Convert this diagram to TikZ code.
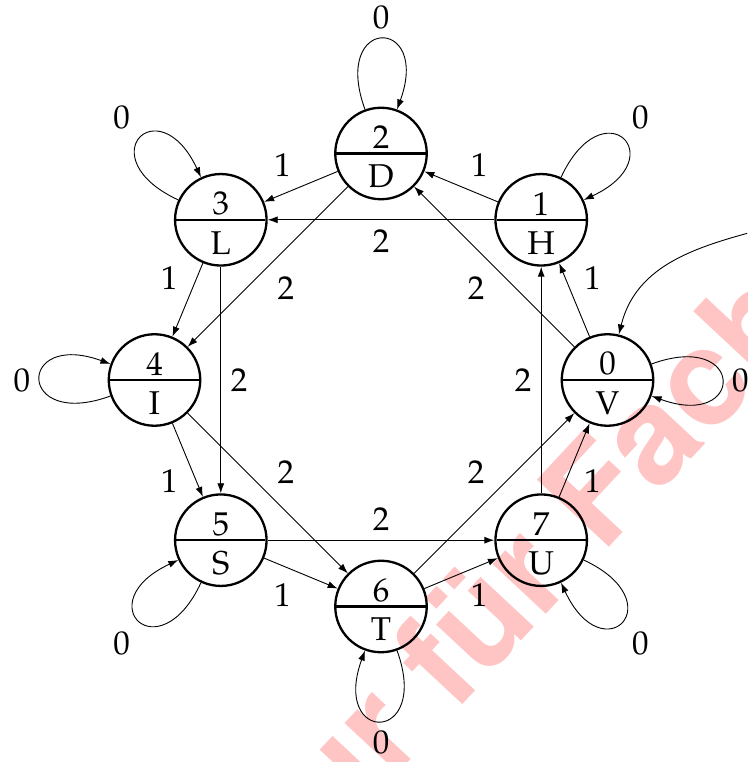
\documentclass[tikz,border=0pt]{standalone}
\usepackage{fontspec}
\newfontfamily\wmfont{TeX Gyre Heros}
\usepackage[T1]{fontenc}
\usepackage{mathpazo}
\usetikzlibrary{shapes.multipart,arrows.meta}
\begin{document}
\begin{tikzpicture}[x=1pt,y=1pt,
  font=\fontsize{33}{40}\selectfont,
  state/.style={circle split, draw, line width=2.3pt, minimum size=91.5pt},
  edge/.style={draw, line width=0.9pt, -{Latex[length=10pt,width=7pt]}},
  lbl/.style={auto=left, inner sep=9.5pt},
  lblr/.style={auto=right, inner sep=9.5pt},
  selfloop/.style={looseness=1, min distance=100pt},
  watermark/.style={rotate=47, anchor=base west, inner sep=0pt, text=red!23,
    font=\wmfont\bfseries\fontsize{135}{140}\selectfont}
]
\newcommand\lowtxt[1]{\rule{0pt}{30pt}#1}
\useasboundingbox (0,0) rectangle (747,762);
\clip (0,0) rectangle (747,762);

% watermark
\node[watermark] (wm) at (280,-138) {nur für Fach};

% states
\node[state] (n0) at (607.5,382)   {0\nodepart{lower}\lowtxt{V}};
\node[state] (n1) at (541.2,542.2) {1\nodepart{lower}\lowtxt{H}};
\node[state] (n2) at (381,608.5)   {2\nodepart{lower}\lowtxt{D}};
\node[state] (n3) at (220.8,542.2) {3\nodepart{lower}\lowtxt{L}};
\node[state] (n4) at (154.5,382)   {4\nodepart{lower}\lowtxt{I}};
\node[state] (n5) at (220.8,221.8) {5\nodepart{lower}\lowtxt{S}};
\node[state] (n6) at (381,155.5)   {6\nodepart{lower}\lowtxt{T}};
\node[state] (n7) at (541.2,221.8) {7\nodepart{lower}\lowtxt{U}};

% initial arrow
\coordinate (init) at (790,540);
\draw[edge] (init) to[out=195,in=76] (n0);

% transitions
\draw[edge] (n0) -- node[lblr]{1} (n1);
\draw[edge] (n0) -- node[lbl]{2} (n2);
\draw[edge] (n1) -- node[lblr]{1} (n2);
\draw[edge] (n1) -- node[lbl]{2} (n3);
\draw[edge] (n2) -- node[lblr]{1} (n3);
\draw[edge] (n2) -- node[lbl]{2} (n4);
\draw[edge] (n3) -- node[lblr]{1} (n4);
\draw[edge] (n3) -- node[lbl]{2} (n5);
\draw[edge] (n4) -- node[lblr]{1} (n5);
\draw[edge] (n4) -- node[lbl]{2} (n6);
\draw[edge] (n5) -- node[lblr]{1} (n6);
\draw[edge] (n5) -- node[lbl]{2} (n7);
\draw[edge] (n6) -- node[lblr]{1} (n7);
\draw[edge] (n6) -- node[lbl]{2} (n0);
\draw[edge] (n7) -- node[lblr]{1} (n0);
\draw[edge] (n7) -- node[lbl]{2} (n1);

% self loops
\draw[edge] (n0) to[selfloop,out=20,in=-20]  node[lbl]{0} (n0);
\draw[edge] (n1) to[selfloop,out=65,in=25]   node[lbl]{0} (n1);
\draw[edge] (n2) to[selfloop,out=110,in=70]  node[lbl]{0} (n2);
\draw[edge] (n3) to[selfloop,out=155,in=115] node[lbl]{0} (n3);
\draw[edge] (n4) to[selfloop,out=200,in=160] node[lbl]{0} (n4);
\draw[edge] (n5) to[selfloop,out=245,in=205] node[lbl]{0} (n5);
\draw[edge] (n6) to[selfloop,out=290,in=250] node[lbl]{0} (n6);
\draw[edge] (n7) to[selfloop,out=335,in=295] node[lbl]{0} (n7);
\end{tikzpicture}
\end{document}
